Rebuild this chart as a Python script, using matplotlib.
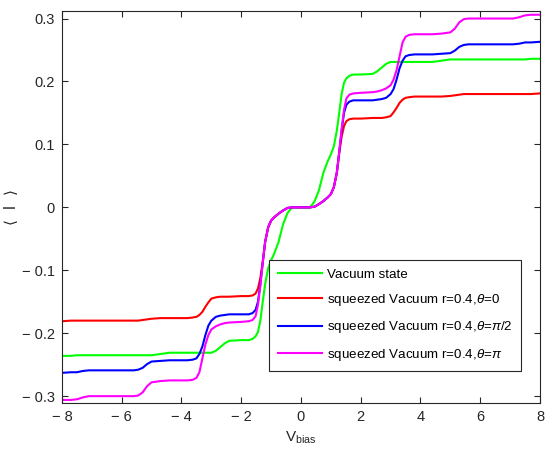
import matplotlib
matplotlib.use("Agg")
import matplotlib.pyplot as plt
from matplotlib.ticker import FuncFormatter

plt.rcParams['font.family'] = ['Liberation Sans', 'DejaVu Sans']
plt.rcParams['mathtext.fontset'] = 'custom'
plt.rcParams['mathtext.rm'] = 'Liberation Sans'
plt.rcParams['mathtext.it'] = 'Liberation Sans:italic'

# bias voltage grid
v_bias = [-8.0, -7.7, -7.5, -7.3, -7.1, -5.8, -5.6, -5.45, -5.3, -5.15, -5.0, -4.7, -4.4,
          -3.8, -3.62, -3.5, -3.4, -3.3, -3.2, -3.1, -3.0, -2.85, -2.7, -2.55, -2.4, -2.0,
          -1.75, -1.62, -1.52, -1.44, -1.36, -1.28, -1.2, -1.1, -1.0, -0.9, -0.75, -0.6,
          -0.45, -0.3, 0.0,
          0.3, 0.45, 0.6, 0.75, 0.9, 1.0, 1.1, 1.2, 1.28, 1.36, 1.44, 1.52, 1.62, 1.75,
          2.0, 2.4, 2.55, 2.7, 2.85, 3.0, 3.1, 3.2, 3.3, 3.4, 3.5, 3.62, 3.8, 4.4, 4.7,
          5.0, 5.15, 5.3, 5.45, 5.6, 5.8, 7.1, 7.3, 7.5, 7.7, 8.0]

vacuum = [-0.236, -0.236, -0.235, -0.235, -0.235, -0.235, -0.235, -0.235, -0.235, -0.235,
          -0.235, -0.233, -0.231, -0.231, -0.231, -0.231, -0.231, -0.231, -0.231, -0.231,
          -0.231, -0.228, -0.222, -0.216, -0.212, -0.211, -0.211, -0.209, -0.205, -0.198,
          -0.180, -0.150, -0.122, -0.097, -0.084, -0.074, -0.055, -0.027, -0.009, 0.0, 0.0,
          0.0, 0.009, 0.027, 0.055, 0.074, 0.084, 0.097, 0.122, 0.150, 0.180, 0.198, 0.205,
          0.209, 0.211, 0.211, 0.212, 0.216, 0.222, 0.228, 0.231, 0.231, 0.231, 0.231, 0.231,
          0.231, 0.231, 0.231, 0.231, 0.233, 0.235, 0.235, 0.235, 0.235, 0.235, 0.235, 0.235,
          0.235, 0.235, 0.236, 0.236]

sq_theta0 = [-0.181, -0.180, -0.180, -0.180, -0.180, -0.180, -0.180, -0.180, -0.179, -0.178,
             -0.177, -0.176, -0.176, -0.176, -0.175, -0.174, -0.171, -0.166, -0.158, -0.151,
             -0.145, -0.143, -0.142, -0.142, -0.142, -0.141, -0.141, -0.140, -0.137, -0.129,
             -0.112, -0.086, -0.055, -0.032, -0.021, -0.016, -0.010, -0.005, -0.001, 0.0, 0.0,
             0.0, 0.001, 0.005, 0.010, 0.016, 0.021, 0.032, 0.055, 0.086, 0.112, 0.129, 0.137,
             0.140, 0.141, 0.141, 0.142, 0.142, 0.142, 0.143, 0.145, 0.151, 0.158, 0.166, 0.171,
             0.174, 0.175, 0.176, 0.176, 0.176, 0.177, 0.178, 0.179, 0.180, 0.180, 0.180, 0.180,
             0.180, 0.180, 0.180, 0.181]

sq_theta_half_pi = [-0.263, -0.262, -0.262, -0.260, -0.259, -0.259, -0.259, -0.258, -0.255,
                    -0.249, -0.245, -0.244, -0.243, -0.243, -0.242, -0.240, -0.233, -0.221,
                    -0.203, -0.188, -0.180, -0.174, -0.172, -0.171, -0.170, -0.170, -0.170,
                    -0.168, -0.163, -0.150, -0.122, -0.088, -0.055, -0.032, -0.021, -0.016,
                    -0.010, -0.005, -0.001, 0.0, 0.0,
                    0.0, 0.001, 0.005, 0.010, 0.016, 0.021, 0.032, 0.055, 0.088, 0.122, 0.150,
                    0.163, 0.168, 0.170, 0.170, 0.170, 0.171, 0.172, 0.174, 0.180, 0.188, 0.203,
                    0.221, 0.233, 0.240, 0.242, 0.243, 0.243, 0.244, 0.245, 0.249, 0.255, 0.258,
                    0.259, 0.259, 0.259, 0.260, 0.262, 0.262, 0.263]

sq_theta_pi = [-0.306, -0.306, -0.305, -0.302, -0.300, -0.300, -0.300, -0.299, -0.294, -0.284,
               -0.278, -0.276, -0.275, -0.275, -0.274, -0.271, -0.262, -0.240, -0.218, -0.203,
               -0.194, -0.189, -0.186, -0.184, -0.183, -0.182, -0.181, -0.179, -0.173, -0.155,
               -0.124, -0.088, -0.055, -0.032, -0.021, -0.016, -0.010, -0.005, -0.001, 0.0, 0.0,
               0.0, 0.001, 0.005, 0.010, 0.016, 0.021, 0.032, 0.055, 0.088, 0.124, 0.155, 0.173,
               0.179, 0.181, 0.182, 0.183, 0.184, 0.186, 0.189, 0.194, 0.203, 0.218, 0.240, 0.262,
               0.271, 0.274, 0.275, 0.275, 0.276, 0.278, 0.284, 0.294, 0.299, 0.300, 0.300, 0.300,
               0.302, 0.305, 0.306, 0.306]

labels = ['Vacuum state',
          r'squeezed Vacuum r=0.4,$\theta$=0',
          r'squeezed Vacuum r=0.4,$\theta$=$\pi$/2',
          r'squeezed Vacuum r=0.4,$\theta$=$\pi$']
colors = ['#00ff00', '#ff0000', '#0000ff', '#ff00ff']

fig = plt.figure(figsize=(5.5, 4.57), dpi=100)
ax = fig.add_axes([0.1127, 0.118, 0.8691, 0.858])

for curve, lab, col in zip([vacuum, sq_theta0, sq_theta_half_pi, sq_theta_pi], labels, colors):
    ax.plot(v_bias, curve, color=col, lw=1.5, label=lab)

ax.set_xlim(-8, 8)
ax.set_ylim(-0.311, 0.312)
ax.set_xticks(range(-8, 9, 2))
ax.set_yticks([-0.3, -0.2, -0.1, 0, 0.1, 0.2, 0.3])


def matlab_fmt(v, pos):
    if abs(v) < 1e-9:
        return '0'
    s = f'{abs(v):g}'
    return ('\u2212 ' + s) if v < 0 else s


ax.xaxis.set_major_formatter(FuncFormatter(matlab_fmt))
ax.yaxis.set_major_formatter(FuncFormatter(matlab_fmt))
ax.tick_params(direction='in', top=True, right=True, length=4, width=0.8,
               labelsize=10.5, colors='#262626', pad=5)
for sp in ax.spines.values():
    sp.set_color('#262626')
    sp.set_linewidth(0.8)

ax.set_xlabel(r'V$_{\mathrm{bias}}$', fontsize=11, color='#262626', labelpad=4)
ax.set_ylabel('\u27e8  I  \u27e9', fontsize=11, color='#262626', labelpad=2,
              family=['DejaVu Sans'])

leg = ax.legend(loc='lower right', bbox_to_anchor=(0.975, 0.064), fontsize=9.6,
                frameon=True, fancybox=False, edgecolor='#262626', framealpha=1,
                handlelength=3.3, labelspacing=0.85, borderpad=0.65, handletextpad=0.4)
leg.get_frame().set_linewidth(0.8)

fig.savefig('out.png', dpi=100)
